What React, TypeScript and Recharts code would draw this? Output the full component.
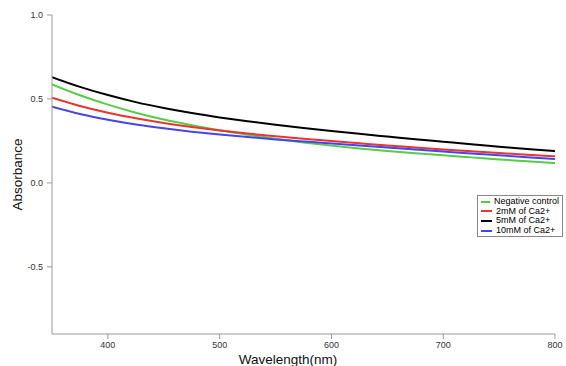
import React from 'react';
import { LineChart, Line, XAxis, YAxis } from 'recharts';

const wavelengths = [350, 375, 400, 425, 450, 475, 500, 525, 550, 575, 600, 625, 650, 675, 700, 725, 750, 775, 800];
const negativeControl = [0.587, 0.522, 0.466, 0.418, 0.377, 0.343, 0.313, 0.287, 0.263, 0.241, 0.222, 0.205, 0.19, 0.177, 0.164, 0.152, 0.14, 0.129, 0.118];
const ca2mM = [0.507, 0.458, 0.418, 0.385, 0.357, 0.333, 0.312, 0.294, 0.278, 0.263, 0.249, 0.236, 0.223, 0.211, 0.199, 0.188, 0.178, 0.168, 0.158];
const ca5mM = [0.63, 0.572, 0.523, 0.481, 0.446, 0.416, 0.39, 0.367, 0.346, 0.327, 0.309, 0.292, 0.276, 0.26, 0.245, 0.23, 0.216, 0.202, 0.189];
const ca10mM = [0.453, 0.41, 0.376, 0.348, 0.325, 0.305, 0.288, 0.273, 0.259, 0.247, 0.235, 0.223, 0.211, 0.199, 0.187, 0.175, 0.164, 0.153, 0.142];

const xTicks = [400, 500, 600, 700, 800];
const yTicks = [-0.5, 0, 0.5, 1.0];

const seriesNames = ['Negative control', '2mM of Ca2+', '5mM of Ca2+', '10mM of Ca2+'];
const seriesKeys = ['neg', 'c2', 'c5', 'c10'];
const seriesColors = ['#55CC44', '#E8352E', '#000000', '#4545F0'];

const data = wavelengths.map((w, i) => ({
  w,
  neg: negativeControl[i],
  c2: ca2mM[i],
  c5: ca5mM[i],
  c10: ca10mM[i],
}));

const FONT = '"Liberation Sans", Arial, Helvetica, sans-serif';

const LegendBox = () => (
  <div
    style={{
      position: 'absolute',
      left: 477,
      top: 195,
      border: '1px solid #888',
      background: '#fff',
      padding: '1px 3px 1px 3px',
      fontFamily: FONT,
      fontSize: 9,
      lineHeight: '9.6px',
      color: '#000',
      width: 78,
    }}
  >
    {seriesNames.map((n, i) => (
      <div key={n} style={{ display: 'flex', alignItems: 'center', whiteSpace: 'nowrap' }}>
        <span style={{ display: 'inline-block', width: 11, height: 2, background: seriesColors[i], marginRight: 4 }} />
        <span>{n}</span>
      </div>
    ))}
  </div>
);

export default function App() {
  return (
    <div style={{ position: 'absolute', left: 0, top: 0, width: 566, height: 366, background: '#fff' }}>
      <LineChart
        width={566}
        height={366}
        data={data}
        margin={{ top: 15, right: 11, bottom: 0, left: 0 }}
      >
        <XAxis
          dataKey="w"
          type="number"
          domain={[350, 800]}
          ticks={xTicks}
          allowDataOverflow
          height={32}
          stroke="#999"
          tickSize={5}
          tickMargin={3}
          tick={{ fill: '#333', fontSize: 9, fontFamily: FONT }}
          label={{
            content: () => (
              <text x={288} y={364} textAnchor="middle" fontSize={13.5} fontFamily={FONT} fill="#111">
                Wavelength(nm)
              </text>
            ),
          }}
        />
        <YAxis
          type="number"
          domain={[-0.9, 1.0]}
          ticks={yTicks}
          allowDataOverflow
          width={52}
          stroke="#999"
          tickSize={5}
          tickMargin={4}
          tickFormatter={(v: number) => v.toFixed(1)}
          tick={{ fill: '#333', fontSize: 9, fontFamily: FONT }}
          label={{
            content: (props: any) => {
              const vb = props.viewBox || { y: 15, height: 319 };
              const cy = vb.y + vb.height / 2;
              return (
                <text
                  x={22}
                  y={cy}
                  transform={`rotate(-90 22 ${cy})`}
                  textAnchor="middle"
                  fontSize={13.5}
                  fontFamily={FONT}
                  fill="#111"
                >
                  Absorbance
                </text>
              );
            },
          }}
        />
        {seriesKeys.map((k, i) => (
          <Line
            key={k}
            type="monotone"
            dataKey={k}
            name={seriesNames[i]}
            stroke={seriesColors[i]}
            strokeWidth={2}
            dot={false}
            isAnimationActive={false}
          />
        ))}
      </LineChart>
      <LegendBox />
    </div>
  );
}
